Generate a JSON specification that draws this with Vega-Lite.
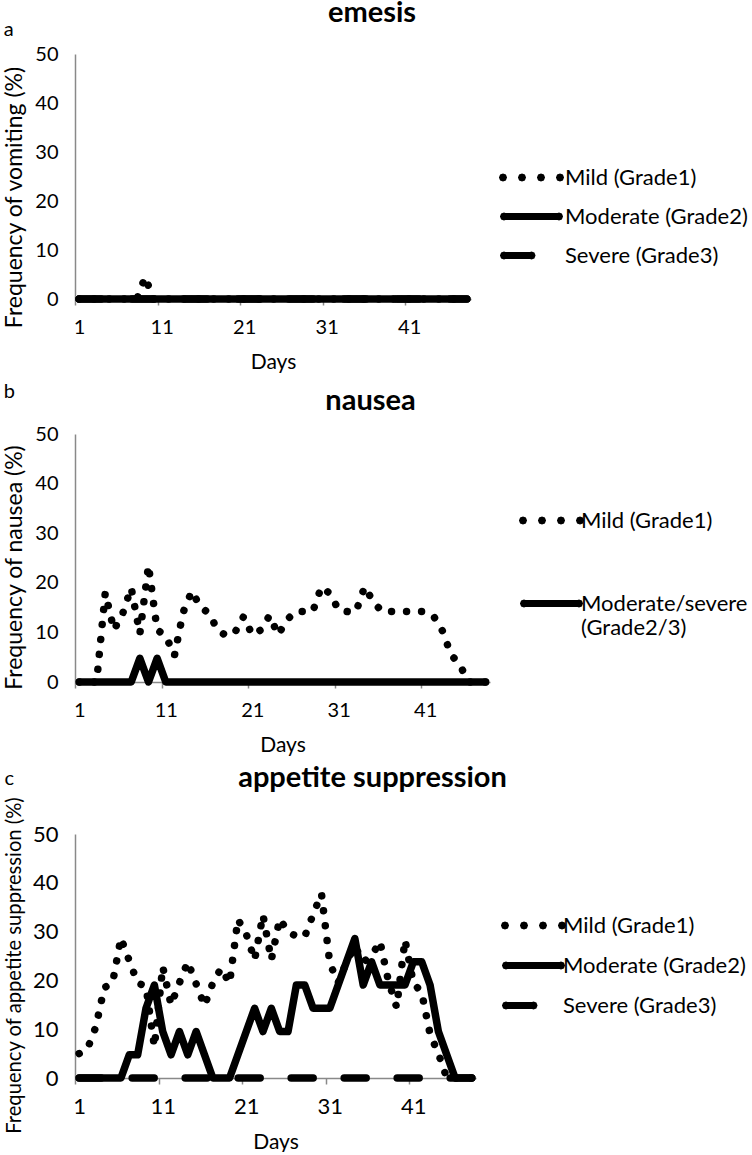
{
  "$schema": "https://vega.github.io/schema/vega-lite/v6.json",
  "padding": {"top": -1, "left": 3, "right": 0, "bottom": 0},
  "background": "white",
  "config": {
    "font": "Lato",
    "view": {"stroke": null},
    "mark": {"color": "#000"},
    "axis": {"grid": false, "domainColor": "#898989", "domainWidth": 1.5, "tickColor": "#898989", "tickWidth": 1.5, "labelFont": "Lato", "labelFontSize": 20, "labelColor": "#000", "titleFont": "Lato", "titleFontSize": 21, "titleFontWeight": "normal", "titleColor": "#000"},
    "axisY": {"ticks": false, "tickSize": 0, "labelPadding": 17, "titlePadding": 8, "titleFontSize": 23},
    "axisX": {"tickSize": 6, "tickOffset": -4, "labelOffset": 4, "labelPadding": 22, "labelBaseline": "middle", "titlePadding": 14},
    "title": {"font": "Lato", "color": "#000"},
    "legend": {"orient": "none", "title": null, "symbolSize": 400, "symbolStrokeWidth": 7, "symbolStrokeColor": "#000", "symbolFillColor": "#000", "symbolOpacity": 1, "labelFont": "Lato", "labelFontSize": 22, "labelColor": "#000", "labelLimit": 400, "padding": 0}
  },
  "datasets": {
    "emesis": [
      {"day":1,"mild":0,"moderate":0,"severe":0},{"day":2,"mild":0,"moderate":0,"severe":0},{"day":3,"mild":0,"moderate":0,"severe":0},{"day":4,"mild":0,"moderate":0,"severe":0},{"day":5,"mild":0,"moderate":0,"severe":0},{"day":6,"mild":0,"moderate":0,"severe":0},{"day":7,"mild":0,"moderate":0,"severe":0},{"day":8,"mild":0,"moderate":0,"severe":0},{"day":9,"mild":4.5,"moderate":0,"severe":0},{"day":10,"mild":0,"moderate":0,"severe":0},
      {"day":11,"mild":0,"moderate":0,"severe":0},{"day":12,"mild":0,"moderate":0,"severe":0},{"day":13,"mild":0,"moderate":0,"severe":0},{"day":14,"mild":0,"moderate":0,"severe":0},{"day":15,"mild":0,"moderate":0,"severe":0},{"day":16,"mild":0,"moderate":0,"severe":0},{"day":17,"mild":0,"moderate":0,"severe":0},{"day":18,"mild":0,"moderate":0,"severe":0},{"day":19,"mild":0,"moderate":0,"severe":0},{"day":20,"mild":0,"moderate":0,"severe":0},
      {"day":21,"mild":0,"moderate":0,"severe":0},{"day":22,"mild":0,"moderate":0,"severe":0},{"day":23,"mild":0,"moderate":0,"severe":0},{"day":24,"mild":0,"moderate":0,"severe":0},{"day":25,"mild":0,"moderate":0,"severe":0},{"day":26,"mild":0,"moderate":0,"severe":0},{"day":27,"mild":0,"moderate":0,"severe":0},{"day":28,"mild":0,"moderate":0,"severe":0},{"day":29,"mild":0,"moderate":0,"severe":0},{"day":30,"mild":0,"moderate":0,"severe":0},
      {"day":31,"mild":0,"moderate":0,"severe":0},{"day":32,"mild":0,"moderate":0,"severe":0},{"day":33,"mild":0,"moderate":0,"severe":0},{"day":34,"mild":0,"moderate":0,"severe":0},{"day":35,"mild":0,"moderate":0,"severe":0},{"day":36,"mild":0,"moderate":0,"severe":0},{"day":37,"mild":0,"moderate":0,"severe":0},{"day":38,"mild":0,"moderate":0,"severe":0},{"day":39,"mild":0,"moderate":0,"severe":0},{"day":40,"mild":0,"moderate":0,"severe":0},
      {"day":41,"mild":0,"moderate":0,"severe":0},{"day":42,"mild":0,"moderate":0,"severe":0},{"day":43,"mild":0,"moderate":0,"severe":0},{"day":44,"mild":0,"moderate":0,"severe":0},{"day":45,"mild":0,"moderate":0,"severe":0},{"day":46,"mild":0,"moderate":0,"severe":0},{"day":47,"mild":0,"moderate":0,"severe":0},{"day":48,"mild":0,"moderate":0,"severe":0}
    ],
    "nausea": [
      {"day":1,"mild":0,"modsev":0},{"day":2,"mild":0,"modsev":0},{"day":3,"mild":0,"modsev":0},{"day":4,"mild":18,"modsev":0},{"day":5,"mild":10.5,"modsev":0},{"day":6,"mild":13.7,"modsev":0},{"day":7,"mild":19,"modsev":0},{"day":8,"mild":9.7,"modsev":4.76},{"day":9,"mild":23.5,"modsev":0},{"day":10,"mild":10.5,"modsev":4.76},
      {"day":11,"mild":9.3,"modsev":0},{"day":12,"mild":5.3,"modsev":0},{"day":13,"mild":14,"modsev":0},{"day":14,"mild":18.3,"modsev":0},{"day":15,"mild":15.2,"modsev":0},{"day":16,"mild":13.8,"modsev":0},{"day":17,"mild":10.5,"modsev":0},{"day":18,"mild":9.3,"modsev":0},{"day":19,"mild":10,"modsev":0},{"day":20,"mild":13.2,"modsev":0},
      {"day":21,"mild":9.5,"modsev":0},{"day":22,"mild":10.5,"modsev":0},{"day":23,"mild":13.4,"modsev":0},{"day":24,"mild":9.5,"modsev":0},{"day":25,"mild":12.5,"modsev":0},{"day":26,"mild":14.2,"modsev":0},{"day":27,"mild":14.2,"modsev":0},{"day":28,"mild":14.2,"modsev":0},{"day":29,"mild":19.2,"modsev":0},{"day":30,"mild":17.8,"modsev":0},
      {"day":31,"mild":14.5,"modsev":0},{"day":32,"mild":14.2,"modsev":0},{"day":33,"mild":14.2,"modsev":0},{"day":34,"mild":19.2,"modsev":0},{"day":35,"mild":16.2,"modsev":0},{"day":36,"mild":14.2,"modsev":0},{"day":37,"mild":14.2,"modsev":0},{"day":38,"mild":14.2,"modsev":0},{"day":39,"mild":14.2,"modsev":0},{"day":40,"mild":14.2,"modsev":0},
      {"day":41,"mild":14.2,"modsev":0},{"day":42,"mild":13.2,"modsev":0},{"day":43,"mild":10.3,"modsev":0},{"day":44,"mild":5.5,"modsev":0},{"day":45,"mild":3.5,"modsev":0},{"day":46,"mild":0,"modsev":0},{"day":47,"mild":0,"modsev":0},{"day":48,"mild":0,"modsev":0}
    ],
    "appetite": [
      {"day":1,"mild":5,"moderate":0,"severe":0},{"day":2,"mild":6,"moderate":0,"severe":0},{"day":3,"mild":10.5,"moderate":0,"severe":0},{"day":4,"mild":18.5,"moderate":0,"severe":0},{"day":5,"mild":19.5,"moderate":0,"severe":0},{"day":6,"mild":28.7,"moderate":0,"severe":0},{"day":7,"mild":24,"moderate":4.76,"severe":0},{"day":8,"mild":19.5,"moderate":4.76,"severe":0},{"day":9,"mild":18.7,"moderate":14.29,"severe":0},{"day":10,"mild":6.4,"moderate":19.05,"severe":0},
      {"day":11,"mild":22.8,"moderate":9.52,"severe":0},{"day":12,"mild":15,"moderate":4.76,"severe":0},{"day":13,"mild":19.5,"moderate":9.52,"severe":0},{"day":14,"mild":23.8,"moderate":4.76,"severe":0},{"day":15,"mild":19.3,"moderate":9.52,"severe":0},{"day":16,"mild":14.8,"moderate":4.76,"severe":0},{"day":17,"mild":19.5,"moderate":0,"severe":0},{"day":18,"mild":22.5,"moderate":0,"severe":0},{"day":19,"mild":19.4,"moderate":0,"severe":0},{"day":20,"mild":32.5,"moderate":4.76,"severe":0},
      {"day":21,"mild":29.5,"moderate":9.52,"severe":0},{"day":22,"mild":24.2,"moderate":14.29,"severe":0},{"day":23,"mild":33.4,"moderate":9.52,"severe":0},{"day":24,"mild":24.2,"moderate":14.29,"severe":0},{"day":25,"mild":32.6,"moderate":9.52,"severe":0},{"day":26,"mild":30,"moderate":9.52,"severe":0},{"day":27,"mild":29,"moderate":19.05,"severe":0},{"day":28,"mild":29,"moderate":19.05,"severe":0},{"day":29,"mild":33.5,"moderate":14.29,"severe":0},{"day":30,"mild":37.8,"moderate":14.29,"severe":0},
      {"day":31,"mild":23.5,"moderate":14.29,"severe":0},{"day":32,"mild":19.5,"moderate":19.05,"severe":0},{"day":33,"mild":23.8,"moderate":23.81,"severe":0},{"day":34,"mild":27,"moderate":28.57,"severe":0},{"day":35,"mild":23.8,"moderate":19.05,"severe":0},{"day":36,"mild":25,"moderate":23.81,"severe":0},{"day":37,"mild":28,"moderate":19.05,"severe":0},{"day":38,"mild":20,"moderate":19.05,"severe":0},{"day":39,"mild":14.5,"moderate":19.05,"severe":0},{"day":40,"mild":28.3,"moderate":19.05,"severe":0},
      {"day":41,"mild":19.5,"moderate":23.81,"severe":0},{"day":42,"mild":17.5,"moderate":23.81,"severe":0},{"day":43,"mild":9,"moderate":19.05,"severe":0},{"day":44,"mild":5,"moderate":9.52,"severe":0},{"day":45,"mild":0,"moderate":4.76,"severe":0},{"day":46,"mild":0,"moderate":0,"severe":0},{"day":47,"mild":0,"moderate":0,"severe":0},{"day":48,"mild":0,"moderate":0,"severe":0}
    ]
  },
  "resolve": {"scale": {"shape": "independent"}, "legend": {"shape": "independent"}},
  "spacing": 9,
  "vconcat": [
    {
      "spacing": 10,
      "resolve": {"scale": {"shape": "independent"}, "legend": {"shape": "independent"}},
      "vconcat": [
        {
          "title": {"text": "a", "anchor": "start", "frame": "bounds", "fontSize": 20, "fontWeight": "normal", "offset": -41},
          "resolve": {"scale": {"shape": "independent"}, "legend": {"shape": "independent"}},
          "vconcat": [
            {
              "title": {"text": "emesis", "anchor": "middle", "frame": "group", "dx": 99, "fontSize": 29, "fontWeight": "bold", "offset": 16},
              "width": 396,
              "height": 245,
              "data": {"name": "emesis"},
              "transform": [{"fold": ["mild", "moderate", "severe"], "as": ["series", "value"]}],
              "encoding": {
                "x": {"field": "day", "type": "quantitative", "scale": {"domain": [0.5, 48.5], "nice": false, "zero": false}, "axis": {"values": [1, 11, 21, 31, 41], "title": "Days"}},
                "y": {"field": "value", "type": "quantitative", "scale": {"domain": [0, 50], "nice": false}, "axis": {"values": [0, 10, 20, 30, 40, 50], "title": "Frequency of vomiting (%)", "titleY": 143}}
              },
              "layer": [
                {"transform": [{"filter": "datum.series === 'mild'"}], "mark": {"type": "line", "strokeWidth": 7.5, "strokeCap": "round", "strokeJoin": "round", "strokeDash": [0.01, 15]}},
                {"transform": [{"filter": "datum.series === 'moderate'"}], "mark": {"type": "line", "strokeWidth": 7.5, "strokeCap": "round", "strokeJoin": "round"}},
                {"transform": [{"filter": "datum.series === 'severe'"}], "mark": {"type": "line", "strokeWidth": 7.5, "strokeCap": "round", "strokeJoin": "round", "strokeDash": [22, 31]}},
                {
                  "mark": {"type": "point", "opacity": 0, "filled": false},
                  "encoding": {
                    "shape": {
                      "field": "series", "type": "nominal",
                      "scale": {"domain": ["mild", "moderate", "severe"], "range": [
                        "M-2.82,0L-2.8288,0.0212L-2.85,0.03L-2.8712,0.0212L-2.88,0L-2.8712,-0.0212L-2.85,-0.03L-2.8288,-0.0212ZM-0.92,0L-0.9288,0.0212L-0.95,0.03L-0.9712,0.0212L-0.98,0L-0.9712,-0.0212L-0.95,-0.03L-0.9288,-0.0212ZM0.98,0L0.9712,0.0212L0.95,0.03L0.9288,0.0212L0.92,0L0.9288,-0.0212L0.95,-0.03L0.9712,-0.0212ZM2.88,0L2.8712,0.0212L2.85,0.03L2.8288,0.0212L2.82,0L2.8288,-0.0212L2.85,-0.03L2.8712,-0.0212Z",
                        "M-2.72,0L-2.7288,0.0212L-2.75,0.03L-2.7712,0.0212L-2.78,0L-2.7712,-0.0212L-2.75,-0.03L-2.7288,-0.0212ZM-2.75,0L2.75,0M2.78,0L2.7712,0.0212L2.75,0.03L2.7288,0.0212L2.72,0L2.7288,-0.0212L2.75,-0.03L2.7712,-0.0212Z",
                        "M-2.72,0L-2.7288,0.0212L-2.75,0.03L-2.7712,0.0212L-2.78,0L-2.7712,-0.0212L-2.75,-0.03L-2.7288,-0.0212ZM-2.75,0L0,0M0.03,0L0.0212,0.0212L0,0.03L-0.0212,0.0212L-0.03,0L-0.0212,-0.0212L0,-0.03L0.0212,-0.0212Z"
                      ]},
                      "legend": {
                        "title": null, "orient": "none", "legendX": 443, "legendY": 110, "rowPadding": 10, "labelOffset": 20,
                        "labelExpr": "datum.value === 'mild' ? 'Mild (Grade1)' : datum.value === 'moderate' ? 'Moderate (Grade2)' : 'Severe (Grade3)'"
                      }
                    }
                  }
                }
              ]
            }
          ]
        },
        {
          "title": {"text": "b", "anchor": "start", "frame": "bounds", "fontSize": 20, "fontWeight": "normal", "offset": -15},
          "resolve": {"scale": {"shape": "independent"}, "legend": {"shape": "independent"}},
          "vconcat": [
            {
              "title": {"text": "nausea", "anchor": "middle", "frame": "group", "dx": 88, "fontSize": 29, "fontWeight": "bold", "offset": 8},
              "width": 415,
              "height": 248,
              "data": {"name": "nausea"},
              "transform": [{"fold": ["mild", "modsev"], "as": ["series", "value"]}],
              "encoding": {
                "x": {"field": "day", "type": "quantitative", "scale": {"domain": [0.5, 48.5], "nice": false, "zero": false}, "axis": {"values": [1, 11, 21, 31, 41], "title": "Days"}},
                "y": {"field": "value", "type": "quantitative", "scale": {"domain": [0, 50], "nice": false}, "axis": {"values": [0, 10, 20, 30, 40, 50], "title": "Frequency of nausea (%)", "titleY": 133}}
              },
              "layer": [
                {"transform": [{"filter": "datum.series === 'mild'"}], "mark": {"type": "line", "strokeWidth": 7.5, "strokeCap": "round", "strokeJoin": "round", "strokeDash": [0.01, 15]}},
                {"transform": [{"filter": "datum.series === 'modsev'"}], "mark": {"type": "line", "strokeWidth": 7.5, "strokeCap": "round", "strokeJoin": "round"}},
                {
                  "mark": {"type": "point", "opacity": 0, "filled": false},
                  "encoding": {
                    "shape": {
                      "field": "series", "type": "nominal",
                      "scale": {"domain": ["mild", "modsev"], "range": [
                        "M-2.82,0L-2.8288,0.0212L-2.85,0.03L-2.8712,0.0212L-2.88,0L-2.8712,-0.0212L-2.85,-0.03L-2.8288,-0.0212ZM-0.92,0L-0.9288,0.0212L-0.95,0.03L-0.9712,0.0212L-0.98,0L-0.9712,-0.0212L-0.95,-0.03L-0.9288,-0.0212ZM0.98,0L0.9712,0.0212L0.95,0.03L0.9288,0.0212L0.92,0L0.9288,-0.0212L0.95,-0.03L0.9712,-0.0212ZM2.88,0L2.8712,0.0212L2.85,0.03L2.8288,0.0212L2.82,0L2.8288,-0.0212L2.85,-0.03L2.8712,-0.0212Z",
                        "M-2.72,0L-2.7288,0.0212L-2.75,0.03L-2.7712,0.0212L-2.78,0L-2.7712,-0.0212L-2.75,-0.03L-2.7288,-0.0212ZM-2.75,0L2.75,0M2.78,0L2.7712,0.0212L2.75,0.03L2.7288,0.0212L2.72,0L2.7288,-0.0212L2.75,-0.03L2.7712,-0.0212Z"
                      ]},
                      "legend": {
                        "title": null, "orient": "none", "legendX": 463, "legendY": 73, "rowPadding": 54, "labelOffset": 16,
                        "labelExpr": "datum.value === 'mild' ? 'Mild (Grade1)' : ['Moderate/severe', '(Grade2/3)']"
                      }
                    }
                  }
                }
              ]
            }
          ]
        }
      ]
    },
    {
      "title": {"text": "c", "anchor": "start", "frame": "bounds", "fontSize": 20, "fontWeight": "normal", "offset": -25},
      "resolve": {"scale": {"shape": "independent"}, "legend": {"shape": "independent"}},
      "vconcat": [
        {
          "title": {"text": "appetite suppression", "anchor": "middle", "frame": "group", "dx": 97, "fontSize": 29, "fontWeight": "bold", "offset": 3},
          "width": 401,
          "height": 244,
          "data": {"name": "appetite"},
          "transform": [{"fold": ["mild", "moderate", "severe"], "as": ["series", "value"]}],
          "encoding": {
            "x": {"field": "day", "type": "quantitative", "scale": {"domain": [0.5, 48.5], "nice": false, "zero": false}, "axis": {"values": [1, 11, 21, 31, 41], "title": "Days", "labelFontSize": 22}},
            "y": {"field": "value", "type": "quantitative", "scale": {"domain": [0, 50], "nice": false}, "axis": {"values": [0, 10, 20, 30, 40, 50], "title": "Frequency of appetite suppression (%)", "titleFontSize": 20.2, "labelFontSize": 22, "titleY": 131}}
          },
          "layer": [
            {"transform": [{"filter": "datum.series === 'mild'"}], "mark": {"type": "line", "strokeWidth": 7.5, "strokeCap": "round", "strokeJoin": "round", "strokeDash": [0.01, 15]}},
            {"transform": [{"filter": "datum.series === 'moderate'"}], "mark": {"type": "line", "strokeWidth": 7.5, "strokeCap": "round", "strokeJoin": "round"}},
            {"transform": [{"filter": "datum.series === 'severe'"}], "mark": {"type": "line", "strokeWidth": 7.5, "strokeCap": "round", "strokeJoin": "round", "strokeDash": [22, 31]}},
            {
              "mark": {"type": "point", "opacity": 0, "filled": false},
              "encoding": {
                "shape": {
                  "field": "series", "type": "nominal",
                  "scale": {"domain": ["mild", "moderate", "severe"], "range": [
                    "M-2.82,0L-2.8288,0.0212L-2.85,0.03L-2.8712,0.0212L-2.88,0L-2.8712,-0.0212L-2.85,-0.03L-2.8288,-0.0212ZM-0.92,0L-0.9288,0.0212L-0.95,0.03L-0.9712,0.0212L-0.98,0L-0.9712,-0.0212L-0.95,-0.03L-0.9288,-0.0212ZM0.98,0L0.9712,0.0212L0.95,0.03L0.9288,0.0212L0.92,0L0.9288,-0.0212L0.95,-0.03L0.9712,-0.0212ZM2.88,0L2.8712,0.0212L2.85,0.03L2.8288,0.0212L2.82,0L2.8288,-0.0212L2.85,-0.03L2.8712,-0.0212Z",
                    "M-2.72,0L-2.7288,0.0212L-2.75,0.03L-2.7712,0.0212L-2.78,0L-2.7712,-0.0212L-2.75,-0.03L-2.7288,-0.0212ZM-2.75,0L2.75,0M2.78,0L2.7712,0.0212L2.75,0.03L2.7288,0.0212L2.72,0L2.7288,-0.0212L2.75,-0.03L2.7712,-0.0212Z",
                    "M-2.72,0L-2.7288,0.0212L-2.75,0.03L-2.7712,0.0212L-2.78,0L-2.7712,-0.0212L-2.75,-0.03L-2.7288,-0.0212ZM-2.75,0L0,0M0.03,0L0.0212,0.0212L0,0.03L-0.0212,0.0212L-0.03,0L-0.0212,-0.0212L0,-0.03L0.0212,-0.0212Z"
                  ]},
                  "legend": {
                    "title": null, "orient": "none", "legendX": 445, "legendY": 78, "rowPadding": 11, "labelOffset": 16,
                    "labelExpr": "datum.value === 'mild' ? 'Mild (Grade1)' : datum.value === 'moderate' ? 'Moderate (Grade2)' : 'Severe (Grade3)'"
                  }
                }
              }
            }
          ]
        }
      ]
    }
  ]
}
